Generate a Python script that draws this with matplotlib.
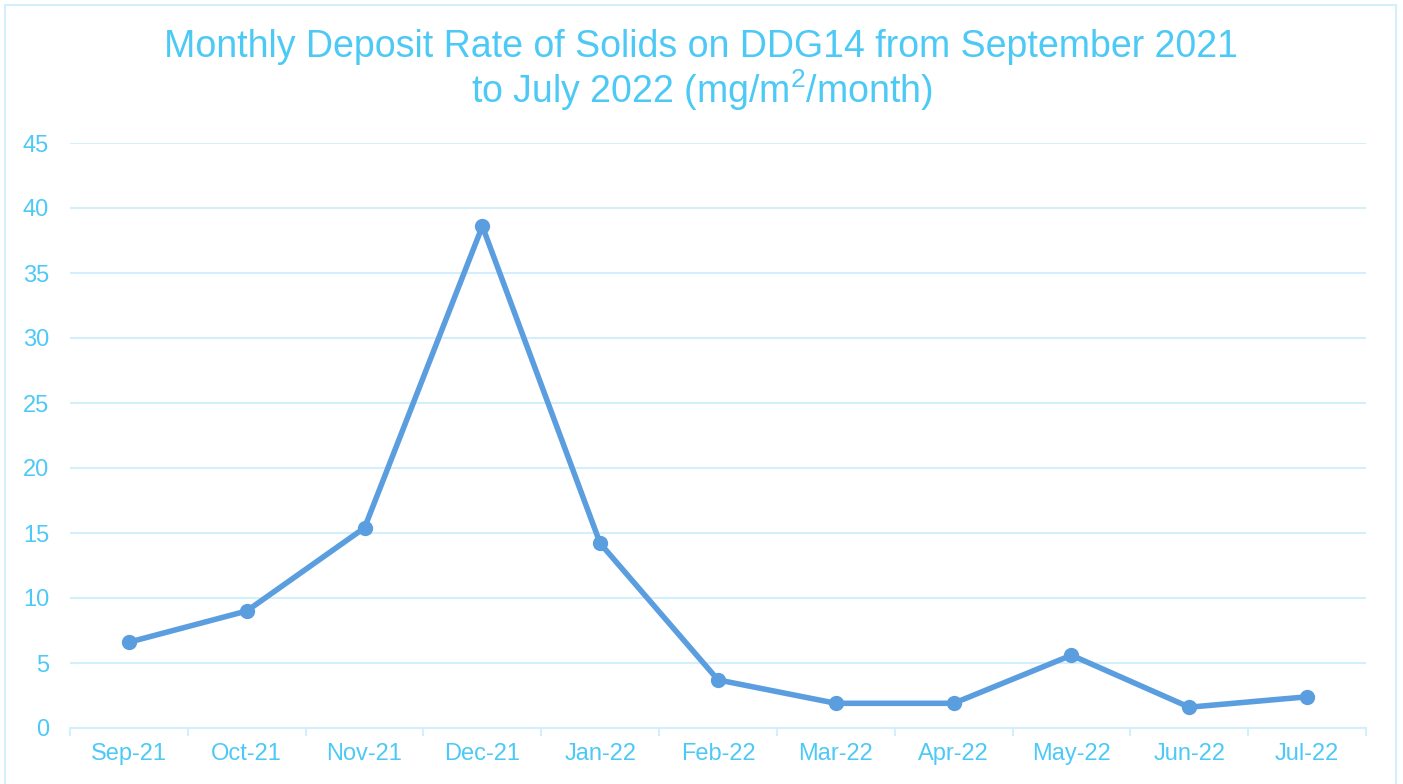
import matplotlib
matplotlib.use("Agg")
import matplotlib.pyplot as plt
from matplotlib.patches import Rectangle

months = ["Sep-21", "Oct-21", "Nov-21", "Dec-21", "Jan-22", "Feb-22",
          "Mar-22", "Apr-22", "May-22", "Jun-22", "Jul-22"]
deposit = [6.6, 9.0, 15.4, 38.6, 14.2, 3.7, 1.9, 1.9, 5.6, 1.6, 2.4]

title_col = "#4DC9F6"
line_col = "#5B9EE0"
grid_col = "#D3EFFC"

plt.rcParams["font.family"] = ["Liberation Sans", "DejaVu Sans"]
plt.rcParams["mathtext.fontset"] = "custom"
plt.rcParams["mathtext.rm"] = "Liberation Sans"

fig = plt.figure(figsize=(14.03, 7.84), dpi=100)
W, H = 1403, 784
ax = fig.add_axes([70 / W, 1 - 728 / H, (1366 - 70) / W, (728 - 143) / H])

x = list(range(len(months)))
ax.plot(x, deposit, color=line_col, lw=4, marker="o", ms=10, zorder=3,
        solid_capstyle="round")

ax.set_xlim(-0.5, len(months) - 0.5)
ax.set_ylim(0, 45)
ax.set_yticks(range(0, 46, 5))
ax.set_xticks(x)
ax.set_xticklabels(months)
ax.set_xticks([i - 0.5 for i in range(len(months) + 1)], minor=True)

ax.grid(axis="y", color=grid_col, lw=1.5)
ax.set_axisbelow(True)
for s in ["top", "right", "left"]:
    ax.spines[s].set_visible(False)
ax.spines["bottom"].set_color(grid_col)
ax.spines["bottom"].set_linewidth(1.5)

ax.tick_params(axis="y", length=0, labelsize=17, labelcolor=title_col, pad=15)
ax.tick_params(axis="x", which="major", length=0, labelsize=17,
               labelcolor=title_col, pad=11)
ax.tick_params(axis="x", which="minor", length=6, width=1.5, color=grid_col)

fig.text(0.5, 1 - 47 / H, "Monthly Deposit Rate of Solids on DDG14 from September 2021",
         ha="center", va="center", fontsize=27, color=title_col)
fig.text(0.5, 1 - 90 / H, "to July 2022 (mg/m$^{\\rm 2}$/month)",
         ha="center", va="center", fontsize=27, color=title_col)

fig.patches.append(Rectangle((5 / W, -0.01), (1396 - 5) / W, 1 - 5 / H + 0.01,
                             transform=fig.transFigure, fill=False,
                             edgecolor=grid_col, lw=1.5))

fig.savefig("out.png", dpi=100)
